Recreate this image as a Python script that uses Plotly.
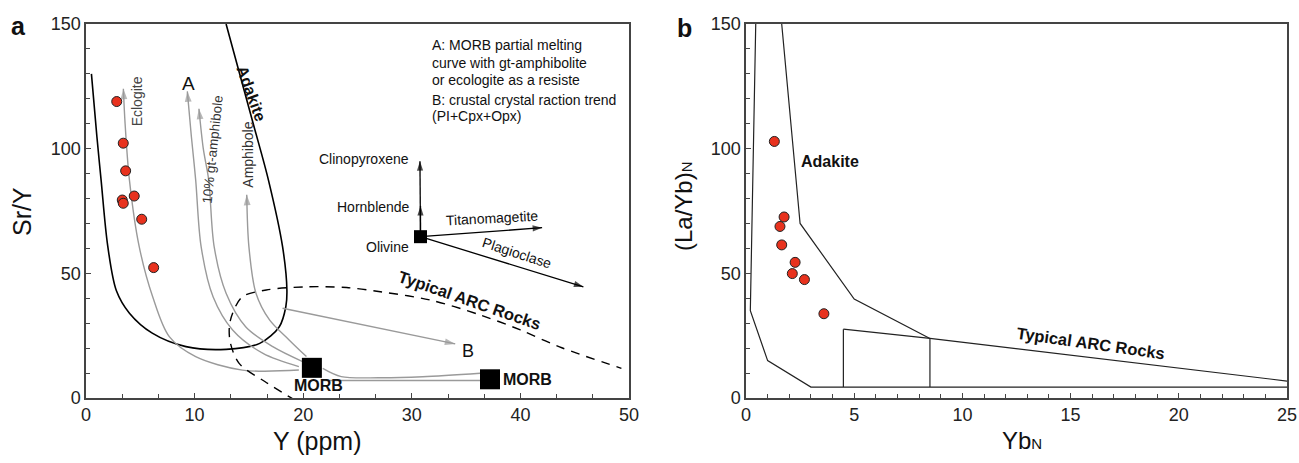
import plotly.graph_objects as go

# ---------------- Panel a data ----------------
samples_a_y = [2.83, 3.43, 3.65, 3.34, 4.44, 3.43, 5.13, 6.23]        # Y (ppm)
samples_a_sry = [118.9, 102.2, 91.1, 79.4, 81.0, 78.1, 71.7, 52.3]    # Sr/Y

adakite_a_x = [0.5, 1.0, 1.4, 2.0, 2.8, 4.0, 6.1, 9.2, 12.9, 16.0, 17.8, 18.4, 18.5, 18.1, 16.8, 15.4, 12.9]
adakite_a_y = [130, 105, 87, 61, 43, 34, 26, 20.6, 19.5, 21.9, 28.6, 36.6, 43.3, 60.7, 87.4, 110, 150]

eclogite_x = [19.6, 14.4, 10.1, 7.67, 6.14, 4.9, 4.0, 3.6, 3.44]
eclogite_y = [11.2, 11.2, 16.6, 24.6, 40.6, 60.7, 87.4, 110, 124]
curveA_x = [19.6, 16.3, 13.5, 11.7, 10.6, 10.1, 9.7, 9.33]
curveA_y = [12.6, 17.9, 27.3, 40.6, 60.7, 87.4, 105, 123]
gtamph_x = [19.95, 17.2, 14.7, 12.9, 11.8, 11.3, 10.8, 10.4]
gtamph_y = [14.6, 20.6, 28.6, 42, 60.7, 87.4, 100, 116]
amph_x = [20.3, 18.7, 16.9, 15.65, 15.0, 14.8]
amph_y = [16.6, 23.3, 31.3, 42, 60.7, 81.5]
link1_x = [21.8, 23.5, 27, 31, 36.3]
link1_y = [11.9, 8.6, 8.1, 8.5, 9.9]
link2_x = [21.8, 36.3]
link2_y = [7.0, 7.0]

arc_a_x = [19.3, 16.5, 14.1, 13.3, 13.2, 13.5, 14.4, 16.6, 20.3, 24, 27.1, 31.7, 36.3, 40, 43.6, 49.3]
arc_a_y = [-1, 6.5, 13.9, 22, 28.6, 34, 40.6, 43.3, 44.6, 44.3, 42.6, 39.3, 33.3, 27.3, 20.5, 11.9]

morb_x = [20.8, 37.2]
morb_y = [12.1, 7.5]
olivine_x = [30.8]
olivine_y = [64.7]
# vector tips: Clinopyroxene, Hornblende, Titanomagetite, Plagioclase
vec_names = ["Clinopyroxene", "Hornblende", "Titanomagetite", "Plagioclase"]
vec_x = [30.75, 30.8, 42.0, 45.8]
vec_y = [95.0, 77.0, 68.3, 44.6]
trendB_x = [18.1, 34.0]
trendB_y = [36.0, 21.7]

# ---------------- Panel b data ----------------
samples_b_yb = [1.31, 1.76, 1.57, 1.65, 2.27, 2.14, 2.70, 3.60]
samples_b_layb = [102.9, 72.6, 68.8, 61.4, 54.4, 49.9, 47.5, 33.8]

left_b_x = [0.45, 0.2, 1.0, 3.0, 25]
left_b_y = [150, 35, 15, 4.4, 4.4]
right_b_x = [1.65, 2.5, 5.0, 8.5]
right_b_y = [150, 70, 39.7, 23.9]
arc_b_x = [4.5, 8.5, 25]
arc_b_y = [27.6, 23.9, 6.8]
vert1_x = [4.5, 4.5]
vert1_y = [27.6, 4.4]
vert2_x = [8.5, 8.5]
vert2_y = [23.9, 4.4]

RED = "#e8321e"
GRAY = "#9a9a9a"
FONT = "Arial, Liberation Sans, sans-serif"

fig = go.Figure()

def line(x, y, xa, ya, color="black", width=1.3, dash=None, spline=False, smooth=0.8):
    fig.add_trace(go.Scatter(x=x, y=y, xaxis=xa, yaxis=ya, mode="lines",
                             line=dict(color=color, width=width, dash=dash,
                                       shape="spline" if spline else "linear",
                                       smoothing=smooth if spline else None),
                             hoverinfo="skip", showlegend=False))

def head(x0, y0, x1, y1, color, size=11):
    fig.add_trace(go.Scatter(x=[x0, x1], y=[y0, y1], xaxis="x", yaxis="y", mode="markers",
                             marker=dict(symbol="arrow", angleref="previous", size=[0, size],
                                         color=color, line=dict(width=0)),
                             hoverinfo="skip", showlegend=False))

# panel a curves
line(adakite_a_x, adakite_a_y, "x", "y", "black", 1.6, spline=True, smooth=0.9)
for cx, cy in [(eclogite_x, eclogite_y), (curveA_x, curveA_y), (gtamph_x, gtamph_y), (amph_x, amph_y)]:
    line(cx, cy, "x", "y", GRAY, 1.4, spline=True, smooth=0.9)
    head(cx[-2], cy[-2], cx[-1], cy[-1], GRAY)
line(link1_x, link1_y, "x", "y", GRAY, 1.4, spline=True, smooth=0.9)
line(link2_x, link2_y, "x", "y", GRAY, 1.4)
line(arc_a_x, arc_a_y, "x", "y", "black", 1.4, dash="9px,7px", spline=True, smooth=0.9)
line(trendB_x, trendB_y, "x", "y", GRAY, 1.5)
head(trendB_x[0], trendB_y[0], trendB_x[1], trendB_y[1], GRAY)

# vector arrows
for vx, vy in zip(vec_x, vec_y):
    line([olivine_x[0], vx], [olivine_y[0], vy], "x", "y", "black", 1.3)
    head(olivine_x[0], olivine_y[0], vx, vy, "black", 10)

# panel b lines
line(left_b_x, left_b_y, "x2", "y2", "#222", 1.2)
line(right_b_x, right_b_y, "x2", "y2", "#222", 1.2)
line(arc_b_x, arc_b_y, "x2", "y2", "#222", 1.2)
line(vert1_x, vert1_y, "x2", "y2", "#222", 1.2)
line(vert2_x, vert2_y, "x2", "y2", "#222", 1.2)

# squares
fig.add_trace(go.Scatter(x=morb_x, y=morb_y, xaxis="x", yaxis="y", mode="markers",
                         marker=dict(symbol="square", size=20, color="black"),
                         hoverinfo="skip", showlegend=False))
fig.add_trace(go.Scatter(x=olivine_x, y=olivine_y, xaxis="x", yaxis="y", mode="markers",
                         marker=dict(symbol="square", size=13, color="black"),
                         hoverinfo="skip", showlegend=False))

# samples
fig.add_trace(go.Scatter(x=samples_a_y, y=samples_a_sry, xaxis="x", yaxis="y", mode="markers",
                         marker=dict(size=10, color=RED, line=dict(color="#222", width=1)),
                         hoverinfo="skip", showlegend=False))
fig.add_trace(go.Scatter(x=samples_b_yb, y=samples_b_layb, xaxis="x2", yaxis="y2", mode="markers",
                         marker=dict(size=10, color=RED, line=dict(color="#222", width=1)),
                         hoverinfo="skip", showlegend=False))

ann = []

def text(xr, yr, x, y, s, size=14, bold=False, angle=0, xanchor="center", yanchor="middle", color="#111"):
    if bold:
        s = "<b>" + s + "</b>"
    ann.append(dict(xref=xr, yref=yr, x=x, y=y, text=s, showarrow=False, textangle=angle,
                    xanchor=xanchor, yanchor=yanchor, font=dict(family=FONT, size=size, color=color)))

# panel a texts
text("x", "y", 4.7, 119, "Eclogite", 14, angle=-90, color="#444")
text("x", "y", 11.7, 99.5, "10% gt-amphibole", 13.5, angle=-84, color="#333")
text("x", "y", 14.9, 97.5, "Amphibole", 14, angle=-90, color="#333")
text("x", "y", 9.4, 126, "A", 19)
text("x", "y", 15.2, 122, "Adakite", 16, bold=True, angle=70)
text("x", "y", 35.3, 39.3, "Typical ARC Rocks", 16.5, bold=True, angle=19)
text("x", "y", 35.2, 19, "B", 18)
text("x", "y", 21.4, 5.0, "MORB", 16, bold=True)
text("x", "y", 38.2, 7.3, "MORB", 16, bold=True, xanchor="left")
text("x", "y", 29.9, 96, "Clinopyroxene", 14, xanchor="right")
text("x", "y", 30.0, 76.5, "Hornblende", 14, xanchor="right")
text("x", "y", 29.9, 60.7, "Olivine", 14, xanchor="right")
text("x", "y", 37.4, 72.2, "Titanomagetite", 14, angle=-3)
text("x", "y", 39.7, 58, "Plagioclase", 14, angle=18)
info_lines = ["A: MORB partial melting", "curve with gt-amphibolite", "or ecologite as a resiste",
              "B: crustal crystal raction trend", "(PI+Cpx+Opx)"]
info_y = [141.6, 134.4, 127.6, 119.5, 112.9]
for s, yy in zip(info_lines, info_y):
    text("x", "y", 31.7, yy, s, 14, xanchor="left")

# panel b texts
text("x2", "y2", 3.9, 95, "Adakite", 16, bold=True)
text("x2", "y2", 15.9, 22.0, "Typical ARC Rocks", 16.5, bold=True, angle=8)

# body margin is removed by the post script, so page pixels == figure pixels
W, H = 1299, 463
OFF = 0
def fx(px):
    return (px - OFF) / W
def fy(py):
    return 1 - (py - OFF) / H

def ptext(px, py, s, size, bold=False, angle=0):
    if bold:
        s = "<b>" + s + "</b>"
    ann.append(dict(xref="paper", yref="paper", x=fx(px), y=fy(py), text=s, showarrow=False,
                    textangle=angle, xanchor="center", yanchor="middle",
                    font=dict(family=FONT, size=size, color="#111")))

ptext(18, 26, "a", 25, bold=True)
ptext(684, 28, "b", 25, bold=True)
ptext(22, 211, "Sr/Y", 25, angle=-90)
ptext(317, 441, "Y (ppm)", 25)
ptext(684, 206, "(La/Yb)<span style='font-size:15px'>N</span>", 24, angle=-90)
ptext(1022, 440, "Yb<span style='font-size:15px'>N</span>", 24)

axis_common = dict(showline=True, mirror=True, linecolor="#444", linewidth=1.6,
                   ticks="inside", ticklen=5, tickcolor="#444", tickwidth=1,
                   showgrid=False, zeroline=False, automargin=False,
                   tickfont=dict(family=FONT, size=18, color="#222"))

fig.update_layout(
    template="none",
    width=W, height=H, margin=dict(l=0, r=0, t=0, b=0),
    paper_bgcolor="white", plot_bgcolor="white", showlegend=False,
    xaxis=dict(domain=[fx(86), fx(629)], range=[0, 50], anchor="y", tick0=0, dtick=10,
               minor=dict(dtick=10 / 3, tick0=0, ticks="inside", ticklen=4, tickcolor="#444"),
               **axis_common),
    yaxis=dict(domain=[fy(398), fy(24)], range=[0, 150], anchor="x", tick0=0, dtick=50,
               minor=dict(dtick=10, tick0=0, ticks="inside", ticklen=4, tickcolor="#444"),
               **axis_common),
    xaxis2=dict(domain=[fx(746), fx(1287)], range=[0, 25], anchor="y2", tick0=0, dtick=5,
                minor=dict(dtick=1, tick0=0, ticks="inside", ticklen=4, tickcolor="#444"),
                **axis_common),
    yaxis2=dict(domain=[fy(398), fy(24)], range=[0, 150], anchor="x2", tick0=0, dtick=50,
                minor=dict(dtick=10, tick0=0, ticks="inside", ticklen=4, tickcolor="#444"),
                **axis_common),
    annotations=ann,
)

fig.write_html("out.html",
               config={"displayModeBar": False, "staticPlot": True},
               post_script="document.body.style.margin='0';document.body.style.overflow='hidden';")
